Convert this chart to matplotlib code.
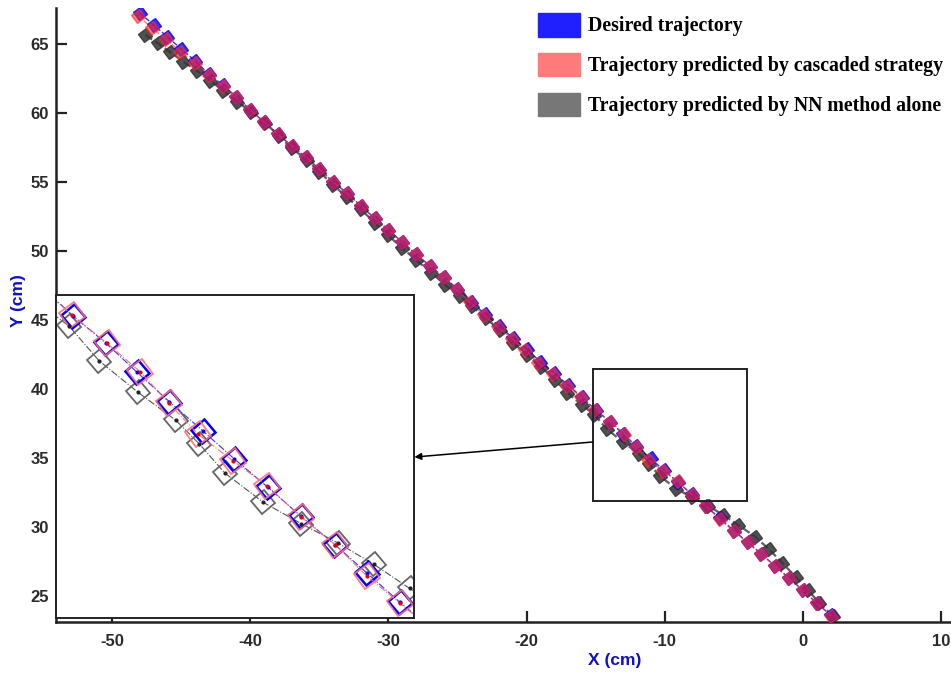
"""Desired vs. predicted trajectories, with a zoomed inset."""
import numpy as np
import matplotlib
matplotlib.use("Agg")
from matplotlib import pyplot as plt
from matplotlib.markers import MarkerStyle
from matplotlib.patches import Patch, Rectangle
from matplotlib.transforms import Affine2D

plt.rcParams["axes.unicode_minus"] = False

# Desired trajectory
desired_x = [-48, -47, -46, -45, -44, -43, -42, -41, -40, -39, -38, -37, -36,
             -35, -34, -33, -32, -31, -30, -29, -28, -27, -26, -25, -24, -23,
             -22, -21, -20, -19, -18, -17, -16, -15, -13.98, -13.03, -12.05,
             -11.03, -10.06, -9.04, -8.02, -6.99, -6.02, -5.0, -4, -3, -2, -1,
             0, 1, 2]
desired_y = [67.25, 66.38, 65.51, 64.64, 63.77, 62.83, 62.03, 61.16, 60.22,
             59.35, 58.48, 57.61, 56.81, 55.94, 55.0, 54.20, 53.26, 52.39,
             51.52, 50.65, 49.78, 48.91, 48.12, 47.25, 46.30, 45.43, 44.57,
             43.70, 42.90, 41.96, 41.16, 40.29, 39.42, 38.48, 37.64, 36.75,
             35.86, 34.97, 34.11, 33.25, 32.36, 31.50, 30.64, 29.74, 28.91,
             28.04, 27.17, 26.30, 25.43, 24.49, 23.62]

# Trajectory predicted by cascaded strategy
cascade_x = [-48.1, -47.1, -46.1, -45.05, -44.0, -43.0, -42.0, -41.0, -40.0,
             -39.0, -38.0, -37.0, -36.0, -35.0, -34.0, -33.0, -32.0, -31.0,
             -30.0, -29.0, -28.0, -27.0, -26.0, -25.05, -24.1, -23.1, -22.1,
             -21.05, -20.1, -19.15, -18.1, -17.1, -16.05, -15.03, -13.95,
             -12.94, -12.07, -11.18, -10.11, -9.07, -8.03, -6.99, -6.02, -5.0,
             -4.0, -3.0, -2.0, -1.0, 0.0, 1.0, 2.05]
cascade_y = [67.03, 66.14, 65.34, 64.44, 63.6, 62.78, 61.98, 61.12, 60.22,
             59.33, 58.46, 57.61, 56.83, 55.92, 55.0, 54.18, 53.26, 52.37,
             51.52, 50.63, 49.78, 48.93, 48.1, 47.22, 46.28, 45.38, 44.50,
             43.65, 42.82, 41.88, 41.12, 40.25, 39.40, 38.50, 37.64, 36.77,
             35.82, 34.87, 34.06, 33.30, 32.35, 31.50, 30.55, 29.71, 28.88,
             28.02, 27.15, 26.28, 25.41, 24.47, 23.58]

# Trajectory predicted by NN method alone
nn_x = [-47.6, -46.7, -45.8, -44.85, -43.85, -42.9, -41.95, -40.95, -39.95,
        -38.9, -37.95, -37.0, -35.9, -35.0, -34.0, -33.0, -32.0, -31.0, -30.05,
        -29.0, -28.0, -26.9, -25.9, -24.85, -23.95, -22.95, -21.95, -20.95,
        -19.95, -18.95, -17.95, -17.05, -16.0, -15.1, -14.2, -13.0, -11.85,
        -11.14, -10.35, -9.18, -8.02, -6.9, -5.8, -4.7, -3.45, -2.45, -1.5,
        -0.5, 0.35, 1.2, 2.15]
nn_y = [65.65, 65.05, 64.40, 63.72, 63.04, 62.32, 61.62, 60.82, 60.09, 59.25,
        58.36, 57.44, 56.59, 55.74, 54.78, 53.89, 53.02, 52.05, 51.16, 50.20,
        49.35, 48.43, 47.54, 46.74, 46.01, 45.12, 44.28, 43.31, 42.46, 41.62,
        40.65, 39.73, 38.84, 38.15, 37.11, 36.14, 35.29, 34.58, 33.68, 32.79,
        32.14, 31.55, 30.90, 30.16, 29.30, 28.38, 27.41, 26.36, 25.43, 24.51,
        23.55]

labels = ["Desired trajectory",
          "Trajectory predicted by cascaded strategy",
          "Trajectory predicted by NN method alone"]

BLUE = "#0000ff"
RED = "#ff2a2a"
DARK = "#333333"
LABEL_BLUE = "#1010c8"

# Drawn zoom box on the main axes and the window shown in the inset
box_x = (-15.22, -4.06)
box_y = (31.88, 41.45)
inset_xlim = (-15.51, -4.57)
inset_ylim = (29.26, 39.11)

tilted = MarkerStyle("s", transform=Affine2D().rotate_deg(38))

fig = plt.figure(figsize=(9.51, 6.75), dpi=100)
ax = fig.add_axes([56 / 951, 53 / 675, 895 / 951, 614 / 675])

ax.plot(nn_x, nn_y, ls="--", lw=1.6, color="#444444", marker=tilted,
        ms=7, mfc=DARK, mec=DARK, alpha=0.85, zorder=2)
ax.plot(desired_x, desired_y, ls="--", lw=1.0, color=BLUE, marker=tilted,
        ms=7, mfc=BLUE, mec=BLUE, alpha=0.8, zorder=3)
ax.plot(cascade_x, cascade_y, ls="--", lw=1.0, color=RED, marker=tilted,
        ms=7, mfc=RED, mec=RED, alpha=0.6, zorder=4)

ax.set_xlim(-54.06, 10.72)
ax.set_ylim(23.12, 67.6)
ax.set_xticks(np.arange(-50, 11, 10))
ax.set_yticks(np.arange(25, 66, 5))

ax.spines["top"].set_visible(False)
ax.spines["right"].set_visible(False)
for side in ["left", "bottom"]:
    ax.spines[side].set_linewidth(1.8)
    ax.spines[side].set_color("#222222")
ax.tick_params(direction="in", length=8, width=1.6, color="#222222",
               labelsize=12, labelcolor="#2a2a2a")
ax.tick_params(axis="x", pad=9)
ax.tick_params(axis="y", pad=5)
for lab in ax.get_xticklabels() + ax.get_yticklabels():
    lab.set_fontweight("bold")
    lab.set_family("Liberation Sans")

ax.set_xlabel("X (cm)", color=LABEL_BLUE, fontsize=12.5, fontweight="bold",
              family="Liberation Sans")
ax.set_ylabel("Y (cm)", color=LABEL_BLUE, fontsize=12.5, fontweight="bold",
              family="Liberation Sans")
ax.xaxis.set_label_coords((615 - 56) / 895, -31 / 614)
ax.yaxis.set_label_coords(-30 / 895, (622 - 301) / 614)

# zoom box and arrow towards the inset
ax.add_patch(Rectangle((box_x[0], box_y[0]), box_x[1] - box_x[0],
                       box_y[1] - box_y[0], fill=False, lw=1.4,
                       ec="#222222", zorder=5))
ax.annotate("", xy=(-28.12, 35.07), xytext=(box_x[0], 36.16),
            arrowprops=dict(arrowstyle="-|>", color="black", lw=1.1,
                            mutation_scale=10, shrinkA=0, shrinkB=0),
            zorder=5)

# Inset
axin = fig.add_axes([56 / 951, 57 / 675, 358 / 951, 323 / 675])
axin.plot(nn_x, nn_y, ls="-.", lw=0.8, color="#555555", marker=tilted,
          ms=12, mfc="none", mec="#666666", mew=1.3)
axin.plot(desired_x, desired_y, ls="-.", lw=0.8, color="#3333ff",
          marker=tilted, ms=12, mfc="none", mec=BLUE, mew=1.8)
axin.plot(cascade_x, cascade_y, ls="-.", lw=0.8, color="#ff6666",
          marker=tilted, ms=13, mfc="none", mec="#ff7070", mew=1.3, alpha=0.9)
axin.plot(nn_x, nn_y, ls="none", marker="o", ms=2, color="#222222")
axin.plot(desired_x, desired_y, ls="none", marker="o", ms=2, color=BLUE)
axin.plot(cascade_x, cascade_y, ls="none", marker="o", ms=2, color="#ee0000")
axin.set_xlim(*inset_xlim)
axin.set_ylim(*inset_ylim)
axin.set_xticks([])
axin.set_yticks([])
for sp in axin.spines.values():
    sp.set_linewidth(1.4)
    sp.set_color("#222222")

# Legend with big colour blocks
handles = [Patch(facecolor="#2020ff", edgecolor="#2020ff"),
           Patch(facecolor="#ff7a7a", edgecolor="#ff7a7a"),
           Patch(facecolor="#777777", edgecolor="#777777")]
fig.legend(handles, labels, loc="upper left",
           bbox_to_anchor=(538 / 951, 1 - 13 / 675),
           frameon=False, borderpad=0, borderaxespad=0,
           handlelength=2.1, handleheight=1.45, handletextpad=0.4,
           labelspacing=0.82,
           prop={"family": "Liberation Serif", "weight": "bold",
                 "size": 14.3})

plt.savefig("out.png", dpi=100)
plt.close()
